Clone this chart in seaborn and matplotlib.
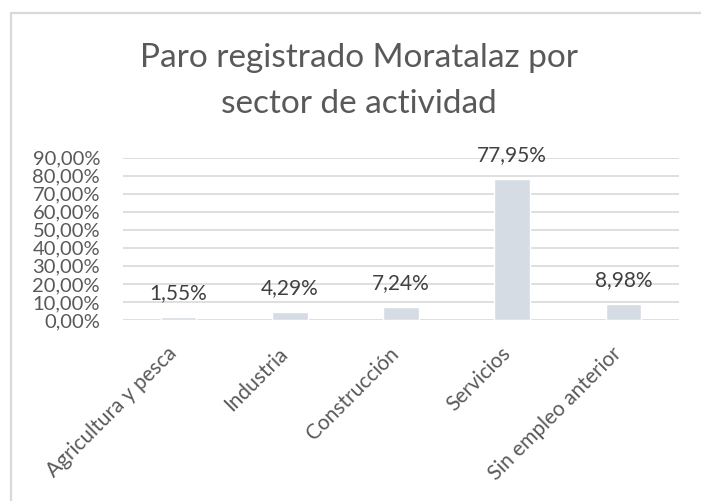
import matplotlib
matplotlib.use("Agg")
import matplotlib.pyplot as plt
import seaborn as sns
import pandas as pd
from matplotlib.lines import Line2D
from matplotlib.transforms import ScaledTranslation

categories = ["Agricultura y pesca", "Industria", "Construcción", "Servicios", "Sin empleo anterior"]
values = [1.55, 4.29, 7.24, 77.95, 8.98]
value_labels = ["1,55%", "4,29%", "7,24%", "77,95%", "8,98%"]
yticks = [0, 10, 20, 30, 40, 50, 60, 70, 80, 90]
ytick_labels = ["0,00%", "10,00%", "20,00%", "30,00%", "40,00%", "50,00%",
                "60,00%", "70,00%", "80,00%", "90,00%"]
title_lines = ["Paro registrado Moratalaz por", "sector de actividad"]

sns.set_theme(style="white")
plt.rcParams['font.family'] = ['Lato', 'DejaVu Sans']

df = pd.DataFrame({"sector": categories, "pct": values})

fig = plt.figure(figsize=(7.01, 5.01), dpi=100)
ax = fig.add_axes([123/701, 1-320/501, (679-123)/701, (320-157.5)/501])

sns.barplot(data=df, x="sector", y="pct", color="#d6dce4", saturation=1,
            width=0.32, ax=ax, zorder=3)

ax.set_ylim(0, 90)
ax.set_yticks(yticks)
ax.set_yticklabels(ytick_labels, color="#595959", fontsize=14.5)
ax.grid(axis="y", color="#d9d9d9", linewidth=1.2, zorder=0)
ax.set_axisbelow(True)
for s in ["top", "right", "left", "bottom"]:
    ax.spines[s].set_visible(False)
ax.tick_params(axis="both", length=0)
ax.tick_params(axis="y", pad=16.5)
ax.tick_params(axis="x", pad=22)
ax.set_xlabel("")
ax.set_ylabel("")
ax.set_xticks(range(len(categories)))
ax.set_xticklabels(categories, rotation=45, ha="right", va="center",
                   rotation_mode="anchor", color="#595959", fontsize=15)
shift = ScaledTranslation(-5/100, 0, fig.dpi_scale_trans)
for lab in ax.get_xticklabels():
    lab.set_transform(lab.get_transform() + shift)

for i, (v, lab) in enumerate(zip(values, value_labels)):
    ax.annotate(lab, (i, v), xytext=(0, 13), textcoords="offset points",
                ha="center", va="baseline", fontsize=15, color="#404040")

for line, yb in zip(title_lines, [67, 113]):
    fig.text(358.5/701, 1-yb/501, line, ha="center", va="baseline", fontsize=24,
             color="#595959", fontweight="normal")

# chart border (top and left)
fig.add_artist(Line2D([11/701, 1.0], [1-13/501, 1-13/501], color="#d9d9d9", linewidth=1.6,
                      transform=fig.transFigure))
fig.add_artist(Line2D([11/701, 11/701], [0, 1-13/501], color="#d9d9d9", linewidth=1.6,
                      transform=fig.transFigure))

fig.savefig("out.png", dpi=100, facecolor="white")
